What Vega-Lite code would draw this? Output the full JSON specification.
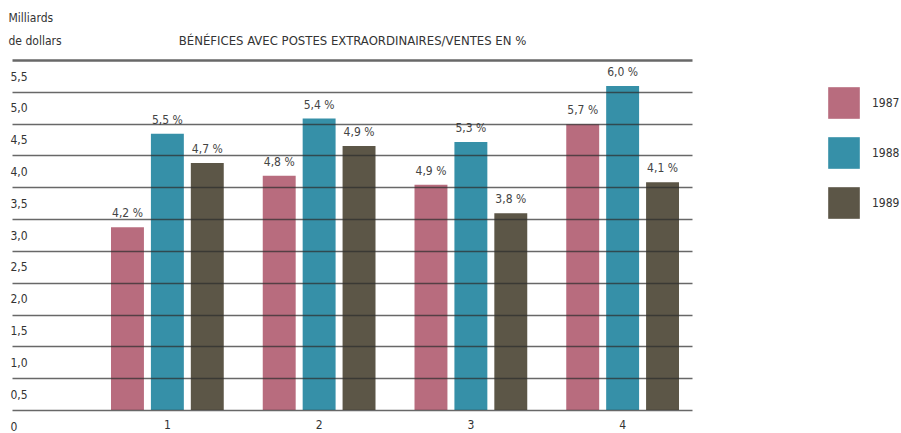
{
  "$schema": "https://vega.github.io/schema/vega-lite/v6.json",
  "autosize": {"type": "none"},
  "width": 680,
  "height": 350,
  "padding": {"left": 12, "top": 60, "right": 209, "bottom": 23},
  "background": "#ffffff",
  "data": {
    "values": [
      {"groupe": "1", "annee": "1987", "milliards": 2.87, "marge": 0.042},
      {"groupe": "1", "annee": "1988", "milliards": 4.34, "marge": 0.055},
      {"groupe": "1", "annee": "1989", "milliards": 3.88, "marge": 0.047},
      {"groupe": "2", "annee": "1987", "milliards": 3.68, "marge": 0.048},
      {"groupe": "2", "annee": "1988", "milliards": 4.58, "marge": 0.054},
      {"groupe": "2", "annee": "1989", "milliards": 4.15, "marge": 0.049},
      {"groupe": "3", "annee": "1987", "milliards": 3.54, "marge": 0.049},
      {"groupe": "3", "annee": "1988", "milliards": 4.21, "marge": 0.053},
      {"groupe": "3", "annee": "1989", "milliards": 3.09, "marge": 0.038},
      {"groupe": "4", "annee": "1987", "milliards": 4.49, "marge": 0.057},
      {"groupe": "4", "annee": "1988", "milliards": 5.09, "marge": 0.060},
      {"groupe": "4", "annee": "1989", "milliards": 3.58, "marge": 0.041}
    ]
  },
  "resolve": {"axis": {"x": "independent"}},
  "encoding": {
    "xOffset": {
      "field": "annee",
      "type": "nominal",
      "scale": {"paddingInner": 0.175, "paddingOuter": 0}
    },
    "y": {
      "field": "milliards",
      "type": "quantitative",
      "scale": {"domain": [0, 5.5], "nice": false, "zero": true},
      "axis": {
        "title": ["Milliards", "de dollars"],
        "titleAngle": 0,
        "titleAlign": "left",
        "titleBaseline": "top",
        "titleX": -4,
        "titleY": -48,
        "titleLineHeight": 23,
        "titleFontWeight": "normal",
        "titleFontSize": 12,
        "titleColor": "#333333",
        "values": [0, 0.5, 1, 1.5, 2, 2.5, 3, 3.5, 4, 4.5, 5, 5.5],
        "format": ".1f",
        "labelExpr": "datum.value == 0 ? '0' : datum.label",
        "labelOverlap": false,
        "labelAlign": "left",
        "labelBaseline": "middle",
        "labelPadding": 2,
        "labelOffset": 16,
        "ticks": false,
        "domain": false,
        "grid": true,
        "gridColor": "#2e2e2e",
        "gridOpacity": 0.72,
        "gridWidth": {"condition": {"test": "datum.value >= 5.5", "value": 2.6}, "value": 1.3},
        "zindex": 1
      }
    }
  },
  "layer": [
    {
      "mark": {"type": "bar"},
      "encoding": {
        "x": {
          "field": "groupe",
          "type": "ordinal",
          "scale": {"paddingInner": 0.257, "paddingOuter": 0.369, "align": 0.884},
          "axis": {
            "orient": "bottom",
            "title": null,
            "ticks": false,
            "domain": false,
            "grid": false,
            "labelAngle": 0,
            "labelPadding": 9,
            "labelBaseline": "top"
          }
        },
        "color": {
          "field": "annee",
          "type": "nominal",
          "scale": {"domain": ["1987", "1988", "1989"], "range": ["#b86c7e", "#3690a8", "#5c5647"]},
          "legend": {
            "title": null,
            "orient": "none",
            "legendX": 816,
            "legendY": 27,
            "direction": "vertical",
            "symbolType": "square",
            "symbolSize": 1000,
            "symbolStrokeWidth": 0,
            "rowPadding": 18,
            "labelOffset": 12,
            "labelFontSize": 12,
            "labelColor": "#333333",
            "padding": 0
          }
        }
      }
    },
    {
      "mark": {"type": "text", "baseline": "alphabetic", "dy": -10, "fontSize": 12, "color": "#444444"},
      "encoding": {
        "x": {
          "field": "groupe",
          "type": "ordinal",
          "axis": {
            "orient": "top",
            "title": "BÉNÉFICES AVEC POSTES EXTRAORDINAIRES/VENTES EN %",
            "titleX": 340,
            "titleY": -20,
            "titleBaseline": "middle",
            "titleFontWeight": "normal",
            "titleFontSize": 13,
            "titleColor": "#333333",
            "labels": false,
            "ticks": false,
            "domain": false,
            "grid": false
          }
        },
        "text": {"field": "marge", "type": "quantitative", "format": ".1%"}
      }
    }
  ],
  "config": {
    "locale": {
      "number": {
        "decimal": ",",
        "thousands": " ",
        "grouping": [3],
        "currency": ["", " €"],
        "percent": " %"
      }
    },
    "font": "DejaVu Sans Condensed, DejaVu Sans, sans-serif",
    "view": {"stroke": null},
    "axis": {
      "labelFont": "DejaVu Sans Condensed, DejaVu Sans, sans-serif",
      "titleFont": "DejaVu Sans Condensed, DejaVu Sans, sans-serif",
      "labelFontSize": 12,
      "labelColor": "#333333"
    },
    "legend": {"labelFont": "DejaVu Sans Condensed, DejaVu Sans, sans-serif"},
    "text": {"font": "DejaVu Sans Condensed, DejaVu Sans, sans-serif"}
  }
}
